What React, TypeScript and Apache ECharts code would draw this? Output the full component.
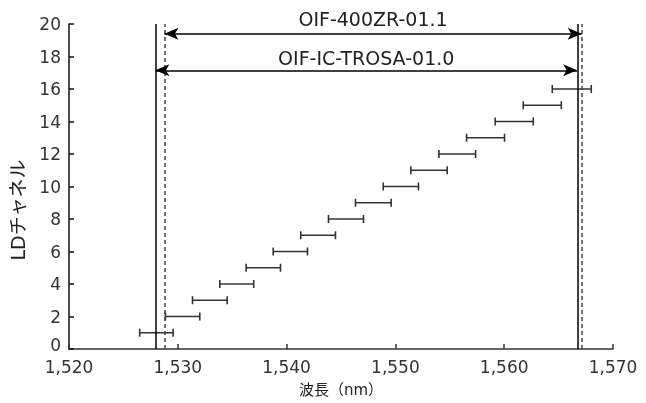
import React, { useEffect, useRef } from "react";
import * as echarts from "echarts";

const channels = [1, 2, 3, 4, 5, 6, 7, 8, 9, 10, 11, 12, 13, 14, 15, 16];
const lowNm = [1526.5, 1528.86, 1531.35, 1533.86, 1536.28, 1538.77, 1541.3, 1543.85, 1546.33, 1548.88, 1551.42, 1554.0, 1556.54, 1559.17, 1561.75, 1564.42];
const highNm = [1529.57, 1532.02, 1534.54, 1536.98, 1539.44, 1541.92, 1544.49, 1547.07, 1549.61, 1552.12, 1554.76, 1557.37, 1560.03, 1562.67, 1565.25, 1568.0];

const trosaEdges = [1527.94, 1566.75];
const zrEdges = [1528.77, 1567.17];
const zrArrowY = 19.4;
const trosaArrowY = 17.15;
const zrLabel = "OIF-400ZR-01.1";
const trosaLabel = "OIF-IC-TROSA-01.0";

const xTicks = { min: 1520, max: 1570, interval: 10 };
const yTicks = { min: 0, max: 20, interval: 2 };

const FONT = "'DejaVu Sans', 'Noto Sans CJK JP', sans-serif";

export default function App() {
  const ref = useRef<HTMLDivElement>(null);
  useEffect(() => {
    if (!ref.current) return;
    const chart = echarts.init(ref.current, null, { renderer: "svg" });
    const data = channels.map((c, i) => [lowNm[i], highNm[i], c]);
    const arrowStyle = { color: "#000", width: 1.5, type: "solid" };
    chart.setOption({
      animation: false,
      grid: { left: 69, right: 33, top: 24, bottom: 54 },
      xAxis: {
        type: "value",
        min: xTicks.min,
        max: xTicks.max,
        interval: xTicks.interval,
        name: "波長（nm）",
        nameLocation: "middle",
        nameGap: 33,
        nameTextStyle: { fontFamily: FONT, fontSize: 15, color: "#222" },
        axisLine: { show: true, lineStyle: { color: "#333", width: 1.5 } },
        axisTick: { show: true, inside: true, length: 5, lineStyle: { color: "#333", width: 1.5 } },
        axisLabel: {
          fontFamily: FONT,
          fontSize: 17,
          color: "#333",
          margin: 9,
          formatter: (v: number) => v.toLocaleString("en-US"),
        },
        splitLine: { show: false },
      },
      yAxis: {
        type: "value",
        min: yTicks.min,
        max: yTicks.max,
        interval: yTicks.interval,
        axisLine: { show: true, lineStyle: { color: "#111", width: 1.5 } },
        axisTick: { show: true, inside: true, length: 5, lineStyle: { color: "#111", width: 1.5 } },
        axisLabel: {
          fontFamily: FONT,
          fontSize: 17,
          color: "#333",
          margin: 8,
          formatter: (v: number) => (v === 0 ? "{z|0}" : String(v)),
          rich: { z: { fontFamily: FONT, fontSize: 17, color: "#333", padding: [0, 0, 9, 0] } },
        },
        splitLine: { show: false },
      },
      graphic: [
        {
          type: "text",
          x: 18,
          y: 210,
          rotation: Math.PI / 2,
          style: {
            text: "LDチャネル",
            fontFamily: FONT,
            fontSize: 19,
            fill: "#222",
            align: "center",
            verticalAlign: "middle",
          },
        },
      ],
      series: [
        {
          type: "custom",
          data,
          encode: { x: [0, 1], y: 2 },
          renderItem: (params: any, api: any) => {
            const y = api.value(2);
            const p1 = api.coord([api.value(0), y]);
            const p2 = api.coord([api.value(1), y]);
            const h = 4;
            const style = { stroke: "#333", lineWidth: 1.6 };
            return {
              type: "group",
              children: [
                { type: "line", shape: { x1: p1[0], y1: p1[1], x2: p2[0], y2: p2[1] }, style },
                { type: "line", shape: { x1: p1[0], y1: p1[1] - h, x2: p1[0], y2: p1[1] + h }, style },
                { type: "line", shape: { x1: p2[0], y1: p2[1] - h, x2: p2[0], y2: p2[1] + h }, style },
              ],
            };
          },
          markLine: {
            silent: true,
            animation: false,
            symbol: ["none", "none"],
            label: { show: false },
            data: [
              { xAxis: trosaEdges[0], lineStyle: { color: "#000", width: 1.5, type: "solid" } },
              { xAxis: trosaEdges[1], lineStyle: { color: "#000", width: 1.5, type: "solid" } },
              { xAxis: zrEdges[0], lineStyle: { color: "#444", width: 1.5, type: [4, 3] } },
              { xAxis: zrEdges[1], lineStyle: { color: "#444", width: 1.5, type: [4, 3] } },
              [
                {
                  coord: [zrEdges[0], zrArrowY],
                  symbol: "arrow",
                  symbolSize: [9, 14],
                  lineStyle: arrowStyle,
                  label: {
                    show: true,
                    formatter: zrLabel,
                    position: "insideMiddleTop",
                    distance: 5,
                    fontFamily: FONT,
                    fontSize: 19,
                    color: "#222",
                  },
                },
                { coord: [zrEdges[1] - 0.05, zrArrowY], symbol: "arrow", symbolSize: [9, 14] },
              ],
              [
                {
                  coord: [trosaEdges[0], trosaArrowY],
                  symbol: "arrow",
                  symbolSize: [9, 14],
                  lineStyle: arrowStyle,
                  label: {
                    show: true,
                    formatter: trosaLabel,
                    position: "insideMiddleTop",
                    distance: 3,
                    fontFamily: FONT,
                    fontSize: 19,
                    color: "#222",
                  },
                },
                { coord: [trosaEdges[1] - 0.05, trosaArrowY], symbol: "arrow", symbolSize: [9, 14] },
              ],
            ],
          },
        },
      ],
    });
    return () => chart.dispose();
  }, []);
  return <div ref={ref} style={{ position: "fixed", left: 0, top: 0, width: 646, height: 403 }} />;
}
